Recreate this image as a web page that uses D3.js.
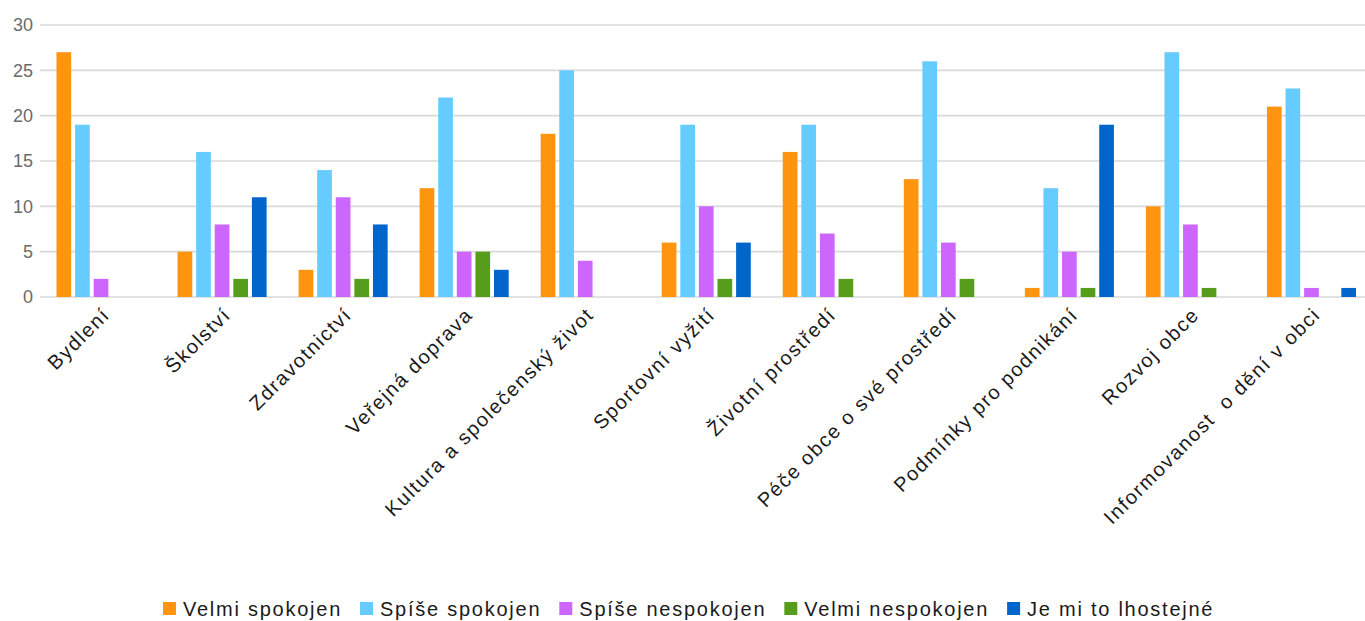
<!DOCTYPE html>
<html>
<head>
<meta charset="utf-8">
<script src="https://cdn.jsdelivr.net/npm/d3@7"></script>
<style>
  body { margin: 0; background: #fff; }
  svg { display: block; font-family: "Liberation Sans", Arial, sans-serif; }
</style>
</head>
<body>
<svg width="1365" height="621"></svg>
<script>
// data
const categories = ["Bydlení", "Školství", "Zdravotnictví", "Veřejná doprava",
  "Kultura a společenský život", "Sportovní vyžití", "Životní prostředí",
  "Péče obce o své prostředí", "Podmínky pro podnikání", "Rozvoj obce",
  "Informovanost  o dění v obci"];
const seriesNames = ["Velmi spokojen", "Spíše spokojen", "Spíše nespokojen",
  "Velmi nespokojen", "Je mi to lhostejné"];
const velmiSpokojen = [27, 5, 3, 12, 18, 6, 16, 13, 1, 10, 21];
const spiseSpokojen = [19, 16, 14, 22, 25, 19, 19, 26, 12, 27, 23];
const spiseNespokojen = [2, 8, 11, 5, 4, 10, 7, 6, 5, 8, 1];
const velmiNespokojen = [0, 2, 2, 5, 0, 2, 2, 2, 1, 1, 0];
const lhostejne = [0, 11, 8, 3, 0, 6, 0, 0, 19, 0, 1];
const yTicks = [0, 5, 10, 15, 20, 25, 30];
const colors = ["#ff950e", "#66ccff", "#cc66ff", "#579d1c", "#0066cc"];

const allSeries = [velmiSpokojen, spiseSpokojen, spiseNespokojen, velmiNespokojen, lhostejne];

let svg = d3.select("svg");

let x0 = d3.scaleBand().domain(categories).range([40.5, 1372]);
let x1 = d3.scaleBand().domain(seriesNames).range([0, x0.bandwidth()])
  .paddingInner(0.21).paddingOuter(0.86);
let y = d3.scaleLinear().domain([0, 30]).range([297, 25]);

// gridlines
svg.append("g").selectAll("line").data(yTicks).enter().append("line")
  .attr("x1", 40).attr("x2", 1365)
  .attr("y1", d => y(d)).attr("y2", d => y(d))
  .attr("stroke", "#d9d9d9").attr("stroke-width", 1.6);

// y axis labels
let yAxis = d3.axisLeft(y).tickValues(yTicks).tickSize(0).tickPadding(7);
svg.append("g").attr("transform", "translate(40,0)").call(yAxis)
  .call(g => g.select(".domain").remove())
  .selectAll("text")
  .attr("font-size", 18).attr("font-family", "Liberation Sans, Arial, sans-serif")
  .attr("fill", "#6b6b6b");

// bars
let groups = svg.append("g").selectAll("g").data(categories).enter().append("g")
  .attr("transform", d => "translate(" + x0(d) + ",0)");
groups.selectAll("rect")
  .data((d, i) => seriesNames.map((s, j) => ({ s: s, v: allSeries[j][i], c: colors[j] })))
  .enter().append("rect")
  .filter(d => d.v > 0)
  .attr("x", d => x1(d.s))
  .attr("width", x1.bandwidth())
  .attr("y", d => y(d.v))
  .attr("height", d => y(0) - y(d.v))
  .attr("fill", d => d.c);

// category labels
svg.append("g").selectAll("text").data(categories).enter().append("text")
  .attr("transform", d => "translate(" + (x0(d) + x0.bandwidth() / 2 + 5) + ",311) rotate(-45)")
  .attr("text-anchor", "end")
  .attr("dy", "0.35em")
  .attr("font-size", 20)
  .attr("letter-spacing", 1.6)
  .attr("fill", "#1a1a1a")
  .style("white-space", "pre")
  .text(d => d);

// legend
let legend = svg.append("g").attr("transform", "translate(0,609)");
let lx = 163;
seriesNames.forEach((name, i) => {
  legend.append("rect").attr("x", lx).attr("y", -7).attr("width", 13).attr("height", 13)
    .attr("fill", colors[i]);
  let t = legend.append("text").attr("x", lx + 20).attr("y", 0).attr("dy", "0.35em")
    .attr("font-size", 20).attr("letter-spacing", 1.75).attr("fill", "#1a1a1a").text(name);
  lx += 20 + t.node().getComputedTextLength() + 18;
});
</script>
</body>
</html>
